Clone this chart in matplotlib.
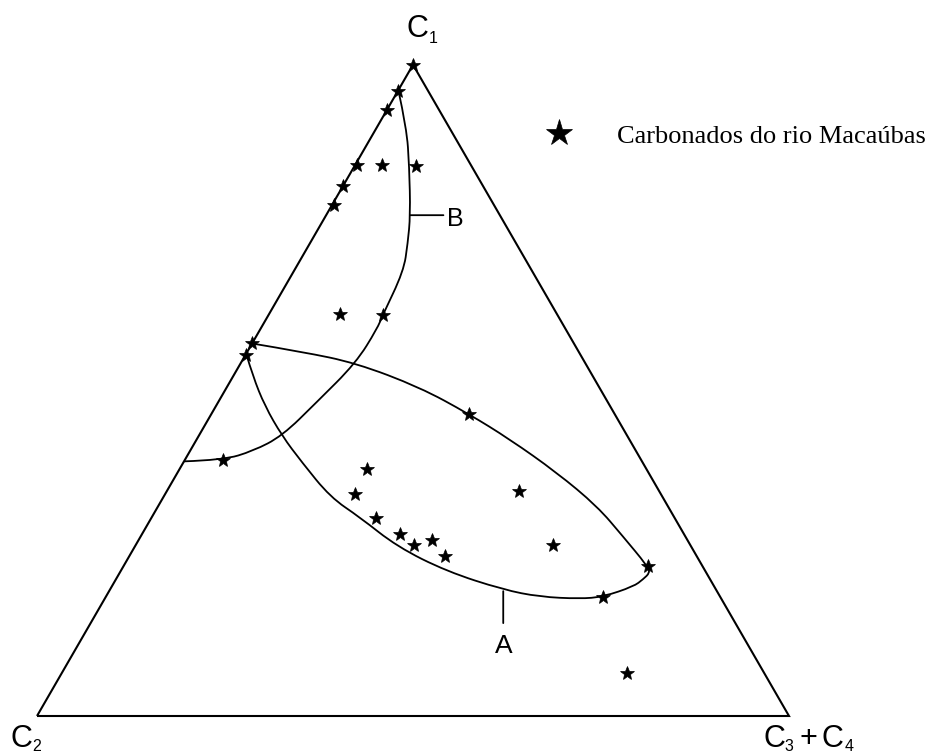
import numpy as np
import matplotlib
matplotlib.use("Agg")
import matplotlib.pyplot as plt
from matplotlib.path import Path
from matplotlib.patches import PathPatch

# Carbonado compositions (%): C1 (top), C2 (left), C3+C4 (right)
c1 = [100.0, 96.0, 93.0, 84.6, 84.6, 84.4, 81.4, 78.4, 61.8, 61.5, 57.2,
      55.5, 39.3, 46.4, 37.9, 34.1, 34.5, 30.4, 28.0, 26.2, 27.0, 24.5,
      26.2, 23.0, 18.3, 6.6]
c2 = [0.0, 4.0, 7.0, 15.1, 11.8, 7.4, 18.6, 21.3, 28.8, 23.3, 42.8,
      44.4, 55.6, 19.4, 37.2, 40.6, 18.6, 39.7, 37.7, 36.8, 34.0, 33.5,
      18.3, 7.3, 15.6, 18.2]
c34 = [0.0, 0.0, 0.0, 0.3, 3.6, 8.2, 0.0, 0.3, 9.4, 15.2, 0.0,
       0.1, 5.1, 34.2, 24.9, 25.3, 46.9, 29.9, 34.3, 37.0, 39.0, 42.0,
       55.5, 69.7, 66.1, 75.2]

# field boundaries, given as C1 and C3+C4 (%)
field_b_c1 = [39.1, 39.3, 40.7, 43.0, 48.2, 54.2, 59.5, 61.5, 68.3, 72.6,
              76.9, 84.4, 90.3, 96.1]
field_b_c34 = [0.0, 5.1, 8.4, 11.1, 13.1, 15.3, 15.5, 15.2, 14.6, 13.0,
               11.2, 7.3, 4.0, 0.0]

field_a_c1 = [57.2, 55.9, 54.2, 50.5, 46.4, 42.5, 37.4, 32.2, 27.6, 23.0,
              22.0, 21.0, 19.9, 18.3, 18.0, 18.3, 19.4, 22.2, 26.0, 30.5,
              33.6, 39.0, 43.0, 47.6, 52.2, 55.5]
field_a_c34 = [0.0, 7.4, 15.3, 25.6, 34.2, 41.6, 50.4, 58.4, 64.1, 69.7,
               70.5, 70.1, 69.4, 66.1, 63.2, 57.7, 52.3, 43.4, 34.9, 27.7,
               22.2, 15.7, 11.1, 6.5, 2.6, 0.1]

legend_label = "Carbonados do rio Macaúbas"

H = np.sqrt(3) / 2


def tern_xy(top, right, left=None):
    top = np.asarray(top, dtype=float)
    right = np.asarray(right, dtype=float)
    if left is None:
        total = 100.0
    else:
        total = top + right + np.asarray(left, dtype=float)
    x = (right + top / 2) / total
    y = top / total * H
    return x, y


def smooth_path(x, y):
    # quadratic bezier through the midpoints, read points act as controls
    pts = np.column_stack([x, y])
    verts = [pts[0]]
    codes = [Path.MOVETO]
    for i in range(1, len(pts) - 2):
        verts += [pts[i], (pts[i] + pts[i + 1]) / 2]
        codes += [Path.CURVE3, Path.CURVE3]
    verts += [pts[-2], pts[-1]]
    codes += [Path.CURVE3, Path.CURVE3]
    return Path(verts, codes)


fig = plt.figure(figsize=(9.32, 7.54), dpi=100)
ax = fig.add_axes([0, 0, 1, 1])
ax.set_xlim(-37 / 752, 895 / 752)
ax.set_ylim(-38 / 752, 716 / 752)
ax.axis("off")

# triangle frame
ax.plot([0, 1, 0.5, 0], [0, 0, H, 0], color="black", lw=1.5,
        solid_joinstyle="miter", solid_capstyle="butt")

# fields A and B
ax_, ay_ = tern_xy(field_a_c1, field_a_c34)
bx_, by_ = tern_xy(field_b_c1, field_b_c34)
for px, py in [(ax_, ay_), (bx_, by_)]:
    ax.add_patch(PathPatch(smooth_path(px, py), facecolor="none",
                           edgecolor="black", lw=1.3))

# samples
sx, sy = tern_xy(c1, c34, c2)
ax.plot(sx, sy, linestyle="none", marker="*", ms=10.5, color="black",
        markeredgewidth=0.5, label=legend_label, zorder=3)

sans = "Liberation Sans"

# field labels with leader ticks
tick_a = (ax_[16], ay_[16] - 0.002)
tick_b = (bx_[10], by_[10])
ax.annotate("", xy=tick_a, xytext=(0, -23), textcoords="offset points",
            arrowprops=dict(arrowstyle="-", lw=1.3, shrinkA=0, shrinkB=0))
ax.annotate("A", xy=tick_a, xytext=(0.7, -44.6), textcoords="offset points",
            ha="center", va="baseline", fontsize=19, family=sans)
ax.annotate("", xy=tick_b, xytext=(23.8, 0), textcoords="offset points",
            arrowprops=dict(arrowstyle="-", lw=1.3, shrinkA=0, shrinkB=0))
ax.annotate("B", xy=tick_b, xytext=(26.5, -8), textcoords="offset points",
            ha="left", va="baseline", fontsize=18, family=sans)

# vertex labels: (text, dx, dy, size) in points from the corner
corner_labels = {
    (0.5, H): [("C", 3.2, 20.2, 22), ("1", 14.4, 15.8, 11.5)],
    (0.0, 0.0): [("C", -11.5, -22.3, 22), ("2", 0.0, -25.4, 11.5)],
    (1.0, 0.0): [("C", -10.8, -22.3, 22), ("3", 0.0, -25.4, 11.5),
                 ("+", 13.7, -22.3, 22), ("C", 31.0, -22.3, 22),
                 ("4", 43.2, -25.4, 11.5)],
}
for corner, parts in corner_labels.items():
    for text, dx, dy, size in parts:
        ax.annotate(text, xy=corner, xytext=(dx, dy),
                    textcoords="offset points", ha="center", va="baseline",
                    fontsize=size, family=sans, annotation_clip=False)

ax.legend(loc="center left", bbox_to_anchor=(546 / 932, 1 - 136 / 754),
          frameon=False, markerscale=1.9, handlelength=1.0,
          handletextpad=1.7, borderpad=0, borderaxespad=0, numpoints=1,
          prop={"family": "Liberation Serif", "size": 19})

fig.savefig("out.png", dpi=100)
